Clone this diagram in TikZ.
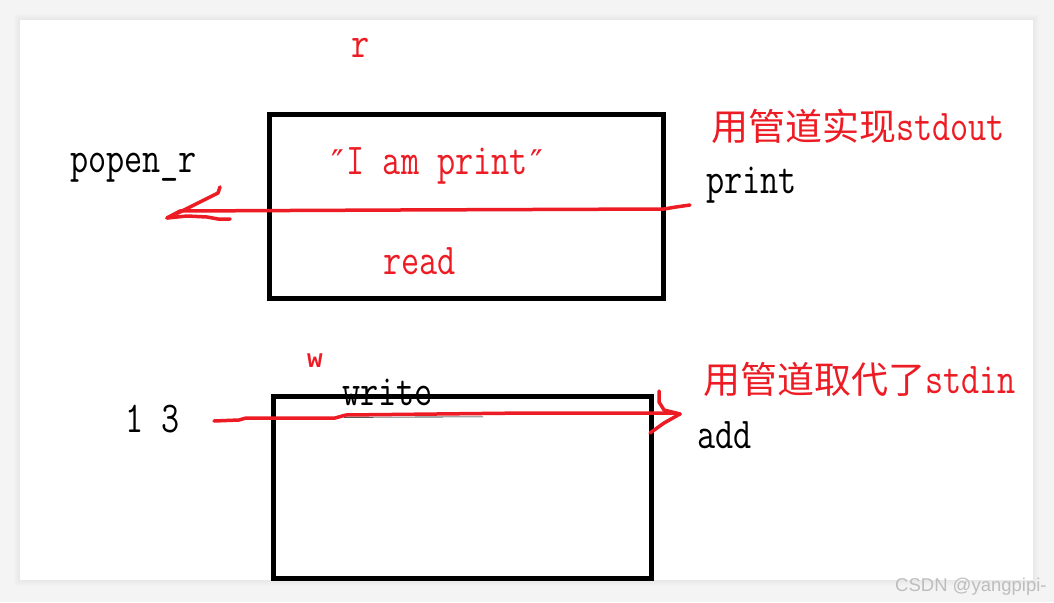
\documentclass[tikz,border=0pt]{standalone}
\usepackage{fontspec}
\usepackage{graphicx}
\newfontfamily\cjk{Noto Sans CJK SC}
\newfontfamily\wmfont{Liberation Sans}
\newfontfamily\lmonofont{Liberation Mono}
\newfontfamily\dvsfont{DejaVu Serif}
\definecolor{pred}{HTML}{ED1C24}
\definecolor{bggray}{HTML}{F4F4F4}
\definecolor{wmgray}{HTML}{BDBDBD}
\newcommand\mono[1]{\scalebox{0.8}[1]{#1}}
\newcommand\cjkt[1]{{\cjk\fontsize{37}{37}\selectfont #1}}
\newcommand\dprime{\makebox[18.5pt][c]{\dvsfont\fontsize{34}{34}\selectfont ″}}
\tikzset{
  lbl/.style={inner sep=0pt, anchor=base west, text=black,
    font=\ttfamily\fontsize{44}{44}\selectfont},
  redlbl/.style={lbl, text=pred},
  boxline/.style={draw=black, line width=5pt},
  stroke/.style={draw=pred, line width=3.5pt, line cap=round, line join=round},
}
\begin{document}
\begin{tikzpicture}[x=1pt,y=-1pt]
  % background and panel
  \fill[bggray] (0,0) rectangle (1054,602);
  \useasboundingbox (0,0) rectangle (1054,602);
  \foreach \i in {1,...,6} {
    \fill[black, opacity=0.008] (20-\i,20-\i) rectangle (1033+\i,580+\i);
  }
  \fill[white] (20,20) rectangle (1033,580);

  % boxes
  \draw[boxline] (269,114) rectangle (663,298);
  \draw[boxline] (273,396) -- (273,578) -- (651,578) -- (651,396) -- cycle;

  % labels
  \node[redlbl] (r) at (351,57) {\mono{r}};
  \node[lbl] (popen) at (70,172) {\mono{popen\_r}};
  \node[redlbl] (iam) at (328,174) {\dprime\mono{I am print}\dprime};
  \node[lbl] (print) at (706,193) {\mono{print}};
  \node[redlbl] (t1) at (711,140) {\cjkt{用管道实现}\mono{stdout}};
  \node[redlbl] (read) at (383,274) {\mono{read}};
  \node[inner sep=0pt, anchor=base west, text=pred,
        font=\lmonofont\bfseries\fontsize{26}{26}\selectfont] (w) at (307,367) {w};
  \node[lbl] (write) at (342,405) {\mono{write}};
  \node[lbl] (nums) at (125,432) {\mono{1 3}};
  \node[lbl] (add) at (697,448) {\mono{add}};
  \node[redlbl] (t2) at (703,393) {\cjkt{用管道取代了}\mono{stdin}};
  \node[inner sep=0pt, anchor=base west, text=wmgray,
        font=\wmfont\fontsize{18.5}{18.5}\selectfont] (wm) at (895,591) {CSDN @yangpipi-};

  % top arrow (print -> popen_r)
  \coordinate (ta) at (690,205);
  \coordinate (tb) at (664,209);
  \coordinate (tc) at (180,211);
  \coordinate (tip1) at (167,218);
  \draw[stroke] (ta) -- (676,207) -- (tb) -- (400,210) -- (tc) -- (tip1);
  \draw[stroke] (220,187) -- (218,193) -- (200,202) -- (180,212) -- (tip1);
  \draw[stroke] (tip1) -- (187,216) -- (207,217) -- (218,219) -- (230,219);

  % bottom arrow (1 3 -> add)
  \coordinate (ba) at (214,421);
  \coordinate (tip2) at (680,414);
  \draw[black, line width=0.6pt] (344,417.3) -- (483,416.8);
  \draw[stroke] (ba) -- (239,420) -- (246,418) -- (335,418) -- (346,415) -- (527,413) -- (672,413) -- (tip2);
  \draw[stroke] (659,391) -- (659,402) -- (664,410) -- (tip2);
  \draw[stroke] (tip2) -- (664,423) -- (650,433);
\end{tikzpicture}
\end{document}
